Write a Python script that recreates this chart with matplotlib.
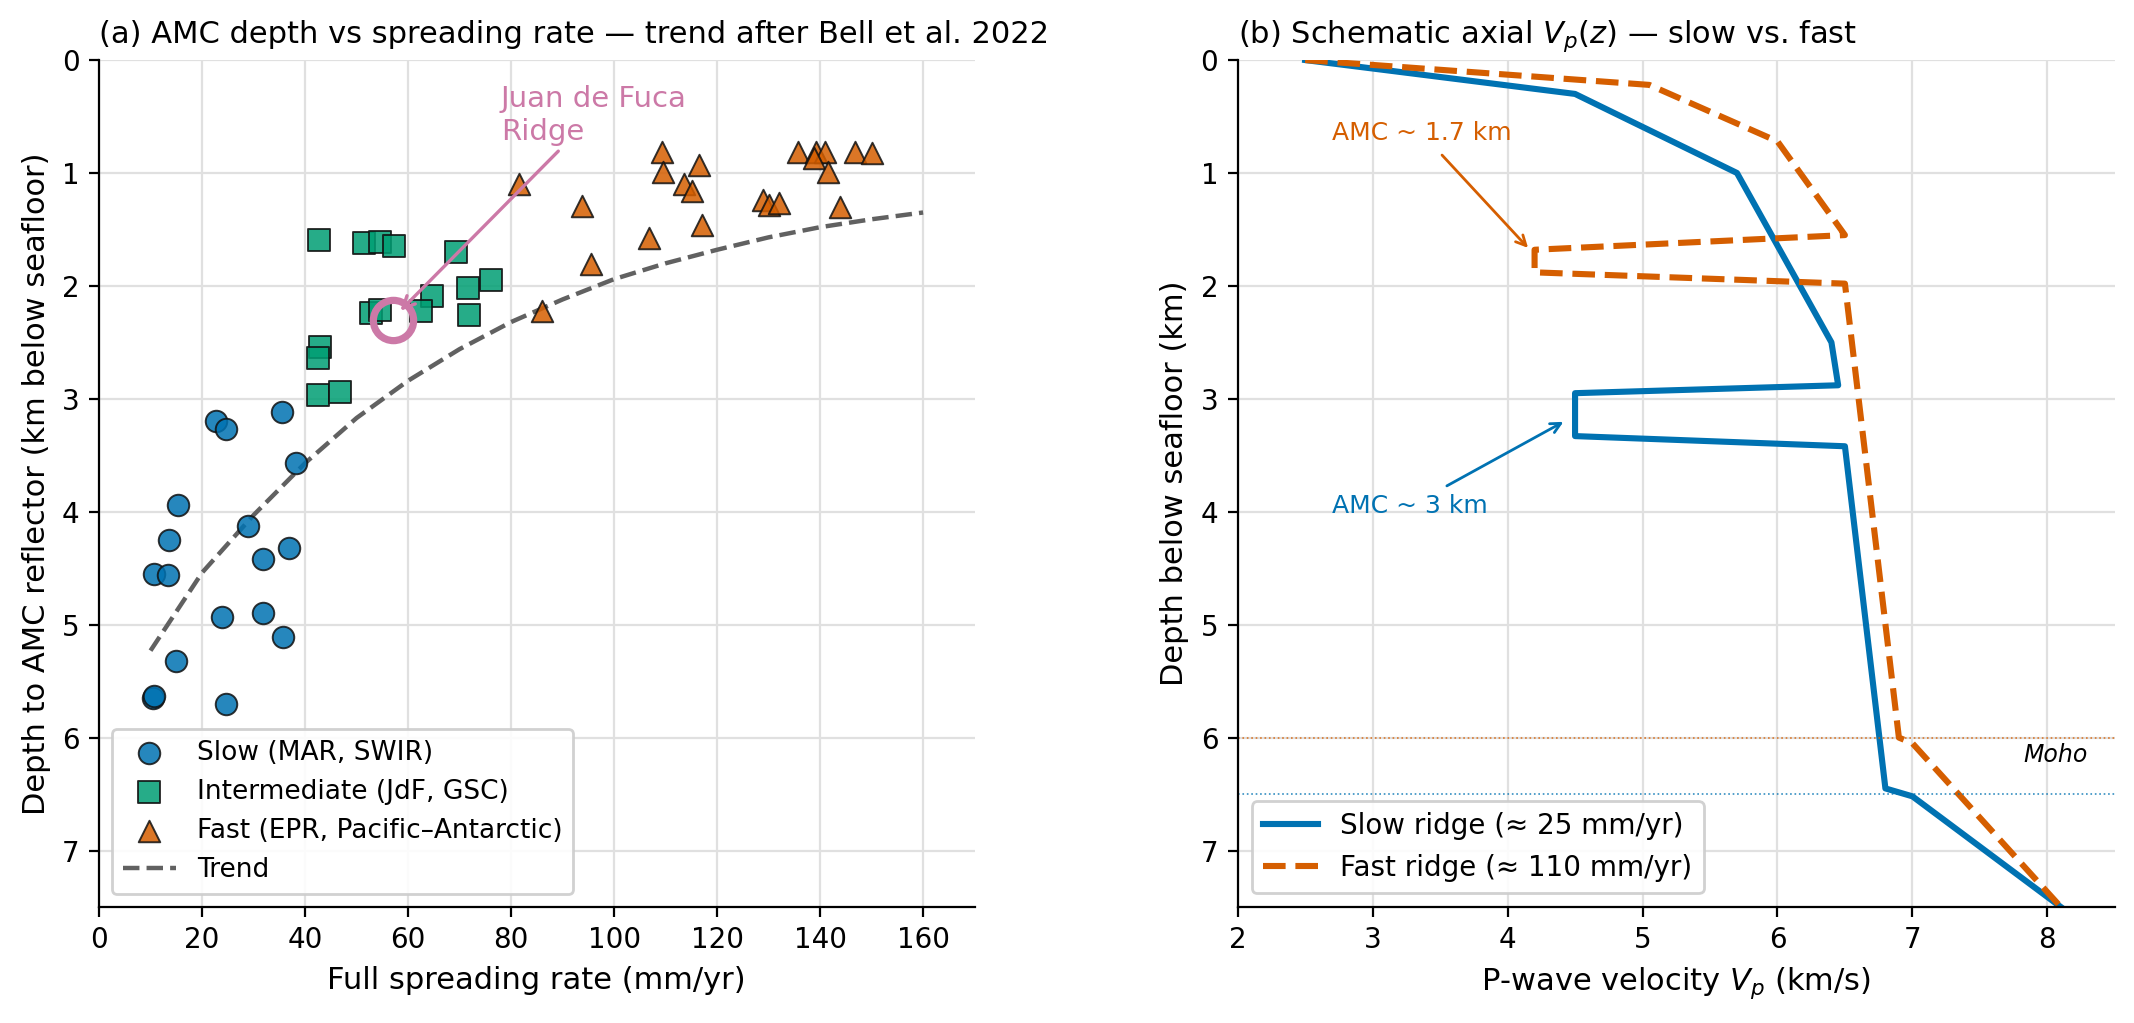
import matplotlib
matplotlib.use("Agg")
import matplotlib.pyplot as plt

# ---- panel (a): AMC depth vs full spreading rate
slow_rate = [22.7, 24.7, 35.5, 38.3, 15.4, 13.6, 28.9, 31.9, 36.9, 10.7, 13.3,
             23.9, 31.8, 35.7, 15.0, 10.4, 10.7, 24.7]
slow_depth = [3.20, 3.27, 3.12, 3.57, 3.94, 4.25, 4.13, 4.42, 4.32, 4.55, 4.56,
              4.93, 4.90, 5.11, 5.32, 5.65, 5.63, 5.70]

int_rate = [42.8, 51.5, 54.5, 57.3, 69.3, 76.2, 71.6, 64.6, 62.5, 71.8, 52.8,
            54.5, 42.9, 42.5, 42.5, 46.7]
int_depth = [1.59, 1.62, 1.61, 1.65, 1.70, 1.95, 2.02, 2.09, 2.22, 2.26, 2.24,
             2.21, 2.54, 2.64, 2.97, 2.94]

fast_rate = [81.6, 93.7, 109.4, 109.5, 116.4, 113.5, 115.1, 117.1, 106.8, 95.5,
             86.0, 129.0, 130.0, 132.0, 135.8, 139.2, 141.0, 138.8, 141.6,
             146.8, 150.1, 143.8]
fast_depth = [1.10, 1.29, 0.81, 0.99, 0.93, 1.10, 1.16, 1.46, 1.58, 1.81,
              2.22, 1.24, 1.28, 1.27, 0.81, 0.81, 0.81, 0.87, 0.99,
              0.81, 0.82, 1.30]

trend_rate = [10, 20, 30, 40, 50, 60, 70, 80, 90, 100, 110, 120, 130, 140, 150, 160]
trend_depth = [5.23, 4.54, 4.03, 3.57, 3.17, 2.84, 2.56, 2.32, 2.12, 1.94,
               1.80, 1.68, 1.57, 1.48, 1.41, 1.35]

jdf_rate, jdf_depth = 57.0, 2.30

# ---- panel (b): schematic Vp(z) profiles
slow_vp = [2.5, 4.5, 5.7, 6.4, 6.45, 4.5, 4.5, 6.5, 6.8, 7.0, 8.1]
slow_z = [0.0, 0.3, 1.0, 2.5, 2.88, 2.95, 3.33, 3.42, 6.45, 6.52, 7.5]
fast_vp = [2.5, 5.05, 6.0, 6.5, 4.2, 4.2, 6.5, 6.9, 7.0, 8.1]
fast_z = [0.0, 0.22, 0.72, 1.55, 1.68, 1.88, 1.98, 6.0, 6.05, 7.5]
moho_fast, moho_slow = 6.0, 6.5

BLUE = '#0072B2'
ORANGE = '#D55E00'
GREEN = '#009E73'
PINK = '#CC79A7'

fig = plt.figure(figsize=(10.67, 5.115), dpi=200)
ax1 = fig.add_axes([0.0464, 0.1134, 0.4103, 0.8279])
ax2 = fig.add_axes([0.580, 0.1134, 0.411, 0.8279])

for ax in (ax1, ax2):
    ax.spines['top'].set_visible(False)
    ax.spines['right'].set_visible(False)
    ax.grid(True, color='#e0e0e0', linewidth=0.8)
    ax.set_axisbelow(True)
    ax.tick_params(labelsize=10)

# (a)
kw = dict(s=60, alpha=0.85, edgecolors='#111111', linewidths=0.7, zorder=3)
ax1.scatter(slow_rate, slow_depth, marker='o', color=BLUE, label='Slow (MAR, SWIR)', **kw)
ax1.scatter(int_rate, int_depth, marker='s', color=GREEN, label='Intermediate (JdF, GSC)', **kw)
ax1.scatter(fast_rate, fast_depth, marker='^', color=ORANGE,
            label='Fast (EPR, Pacific\u2013Antarctic)', **kw)
ax1.plot(trend_rate, trend_depth, '--', color='0.38', lw=1.6, label='Trend', zorder=2)

ax1.plot([jdf_rate], [jdf_depth], 'o', mfc='none', mec=PINK, ms=14.5, mew=2.6, zorder=4)
ax1.annotate('Juan de Fuca\nRidge', xy=(58.5, 2.22), xytext=(78, 0.49),
             color=PINK, fontsize=10.5, ha='left', va='center',
             arrowprops=dict(arrowstyle='->', color=PINK, lw=1.2, shrinkA=0, shrinkB=0))

ax1.set_xlim(0, 170)
ax1.set_ylim(7.5, 0)
ax1.set_xticks(range(0, 161, 20))
ax1.set_yticks(range(0, 8))
ax1.set_xlabel('Full spreading rate (mm/yr)', fontsize=11)
ax1.set_ylabel('Depth to AMC reflector (km below seafloor)', fontsize=11)
ax1.set_title('(a) AMC depth vs spreading rate \u2014 trend after Bell et al. 2022',
              loc='left', fontsize=11)
ax1.legend(loc='lower left', fontsize=9.5, framealpha=0.9)

# (b)
ax2.plot(slow_vp, slow_z, '-', color=BLUE, lw=2.2, label='Slow ridge (\u2248 25 mm/yr)')
ax2.plot(fast_vp, fast_z, '--', color=ORANGE, lw=2.2, label='Fast ridge (\u2248 110 mm/yr)')
ax2.axhline(moho_fast, color=ORANGE, ls=':', lw=0.6, alpha=0.8)
ax2.axhline(moho_slow, color=BLUE, ls=':', lw=0.6, alpha=0.8)
ax2.text(8.3, 6.15, 'Moho', style='italic', fontsize=8.5, ha='right', va='center')

ax2.annotate('AMC ~ 1.7 km', xy=(4.18, 1.7), xytext=(2.7, 0.65), color=ORANGE,
             fontsize=9, ha='left', va='center',
             arrowprops=dict(arrowstyle='->', color=ORANGE, lw=1.0))
ax2.annotate('AMC ~ 3 km', xy=(4.45, 3.18), xytext=(2.7, 3.95), color=BLUE,
             fontsize=9, ha='left', va='center',
             arrowprops=dict(arrowstyle='->', color=BLUE, lw=1.0))

ax2.set_xlim(2, 8.5)
ax2.set_ylim(7.5, 0)
ax2.set_xticks(range(2, 9))
ax2.set_yticks(range(0, 8))
ax2.set_xlabel('P-wave velocity $V_p$ (km/s)', fontsize=11)
ax2.set_ylabel('Depth below seafloor (km)', fontsize=11)
ax2.set_title('(b) Schematic axial $V_p(z)$ \u2014 slow vs. fast', loc='left', fontsize=11)
ax2.legend(loc='lower left', fontsize=10, framealpha=0.9)

fig.savefig('out.png', dpi=200)
